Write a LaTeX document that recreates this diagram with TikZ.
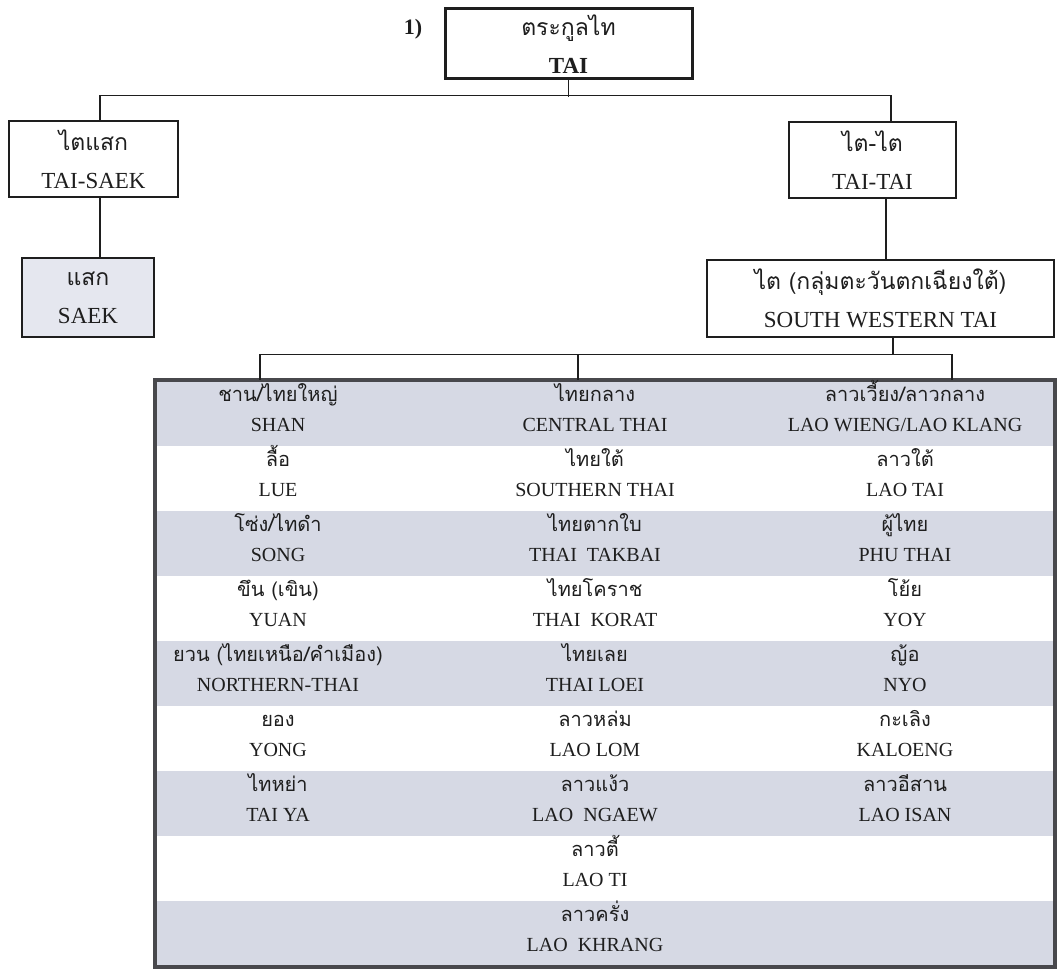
\documentclass[tikz,border=0pt]{standalone}
\usepackage{fontspec}
\setmainfont{Liberation Serif}
\newfontfamily\thai[Script=Thai]{Loma}
\usetikzlibrary{calc}
\definecolor{stripe}{RGB}{214,217,228}
\definecolor{saekfill}{RGB}{229,231,239}
\definecolor{frame}{RGB}{72,72,76}
\definecolor{ink}{RGB}{30,30,30}

% one cell of the language table: name, x, row top, Thai name, English name
\newcommand\langcell[5]{%
  \node[th] (#1t) at (#2,#3+20) {#4};
  \node[en] (#1e) at (#2,#3+50) {#5};}

\begin{document}
\begin{tikzpicture}[x=1pt,y=-1pt,
  link/.style={draw=ink,line width=1.3pt},
  box/.style={draw=ink,line width=1.1pt,align=center,inner sep=0pt,
    font=\fontsize{23}{38}\selectfont,text=ink},
  th/.style={anchor=base,inner sep=0pt,text=ink,font=\thai\fontsize{20}{24}\selectfont},
  en/.style={anchor=base,inner sep=0pt,text=ink,font=\fontsize{20}{24}\selectfont}]
\useasboundingbox (0,0) rectangle (1058,976);

% --- upper tree ---
\node[box,line width=3pt,minimum width=247,minimum height=70]
  (tai) at (568.5,44) {{\thai ตระกูลไท}\\\textbf{TAI}};
\node[inner sep=0pt,font=\bfseries\fontsize{22}{24}\selectfont,text=ink]
  (num) at (413,29) {1)};

\node[box,minimum width=169,minimum height=76] (ts) at (93.5,159)
  {{\thai ไตแสก}\\TAI-SAEK};
\node[box,fill=saekfill,minimum width=132,minimum height=79] (saek) at (88,297.5)
  {{\thai แสก}\\SAEK};
\node[box,minimum width=167,minimum height=76] (tt) at (872.5,160)
  {{\thai ไต-ไต}\\TAI-TAI};
\node[box,minimum width=347,minimum height=77] (sw) at (880.5,298.5)
  {{\thai ไต (กลุ่มตะวันตกเฉียงใต้)}\\SOUTH WESTERN TAI};

\draw[link] (tai.south) -- ++(0,17);
\draw[link] ([xshift=6.5]ts.north) -- ++(0,-25) -| ([xshift=18.5]tt.north);
\draw[link] ([xshift=6.5]ts.south) -- ([xshift=6.5]ts.south |- saek.north);
\draw[link] ([xshift=13.5]tt.south) -- ([xshift=13.5]tt.south |- sw.north);

% --- table of South Western Tai languages ---
\foreach \top in {381,511,641,771,901}
  \fill[stripe] (157,\top) rectangle (1053,\top+65);
\coordinate (tabnw) at (155,380);
\coordinate (tabse) at (1055,967);
\draw[frame,line width=4pt] (tabnw) rectangle (tabse);

\coordinate (c1) at (260,380);
\coordinate (c2) at (578,380);
\coordinate (c3) at (952,380);
\draw[link] ([xshift=12.5]sw.south) -- ++(0,17) coordinate (bus);
\draw[link] (c1) |- (bus) -| (c3);
\draw[link] (c2) -- (c2 |- bus);

\langcell{a1}{278}{381}{ชาน/ไทยใหญ่}{SHAN}
\langcell{b1}{595}{381}{ไทยกลาง}{CENTRAL THAI}
\langcell{c1}{905}{381}{ลาวเวี้ยง/ลาวกลาง}{LAO WIENG/LAO KLANG}
\langcell{a2}{278}{446}{ลื้อ}{LUE}
\langcell{b2}{595}{446}{ไทยใต้}{SOUTHERN THAI}
\langcell{c2}{905}{446}{ลาวใต้}{LAO TAI}
\langcell{a3}{278}{511}{โซ่ง/ไทดำ}{SONG}
\langcell{b3}{595}{511}{ไทยตากใบ}{THAI\enspace TAKBAI}
\langcell{c3}{905}{511}{ผู้ไทย}{PHU THAI}
\langcell{a4}{278}{576}{ขึน (เขิน)}{YUAN}
\langcell{b4}{595}{576}{ไทยโคราช}{THAI\enspace KORAT}
\langcell{c4}{905}{576}{โย้ย}{YOY}
\langcell{a5}{278}{641}{ยวน (ไทยเหนือ/คำเมือง)}{NORTHERN-THAI}
\langcell{b5}{595}{641}{ไทยเลย}{THAI LOEI}
\langcell{c5}{905}{641}{ญ้อ}{NYO}
\langcell{a6}{278}{706}{ยอง}{YONG}
\langcell{b6}{595}{706}{ลาวหล่ม}{LAO LOM}
\langcell{c6}{905}{706}{กะเลิง}{KALOENG}
\langcell{a7}{278}{771}{ไทหย่า}{TAI YA}
\langcell{b7}{595}{771}{ลาวแง้ว}{LAO\enspace NGAEW}
\langcell{c7}{905}{771}{ลาวอีสาน}{LAO ISAN}
\langcell{b8}{595}{836}{ลาวตี้}{LAO TI}
\langcell{b9}{595}{901}{ลาวครั่ง}{LAO\enspace KHRANG}
\end{tikzpicture}
\end{document}
